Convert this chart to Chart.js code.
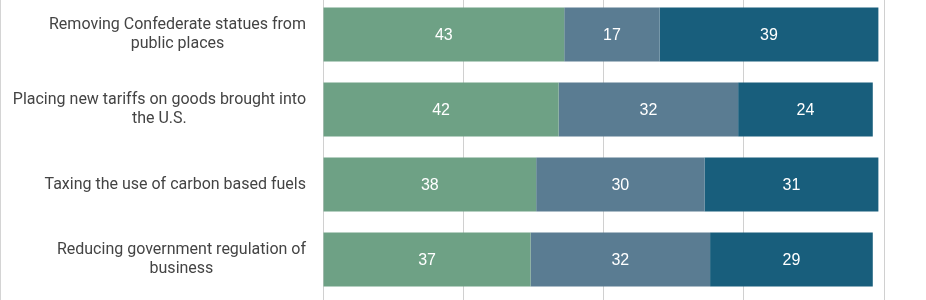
<!DOCTYPE html>
<html>
<head>
<meta charset="utf-8">
<script src="https://cdn.jsdelivr.net/npm/chart.js@4/dist/chart.umd.min.js"></script>
<style>
  html, body { margin: 0; padding: 0; background: #fff; overflow: hidden; }
  body { width: 926px; height: 300px; position: relative; }
  #edge { position: absolute; left: 0; top: 0; width: 1px; height: 300px; background: #d4d4d4; }
  #wrap { position: absolute; left: 0; top: -3px; width: 926px; height: 310px; }
</style>
</head>
<body>
<div id="edge"></div>
<div id="wrap"><canvas id="c"></canvas></div>
<script>
const categories = [
  ["Removing Confederate statues from", "public places"],
  ["Placing new tariffs on goods brought into", "the U.S."],
  ["Taxing the use of carbon based fuels"],
  ["Reducing government regulation of", "business"]
];
const seriesA = [43, 42, 38, 37];
const seriesB = [17, 32, 30, 32];
const seriesC = [39, 24, 31, 29];
const xTicks = [0, 25, 50, 75, 100];

const labelFont = '16px Roboto';
const valueFont = '16px "Liberation Sans", Arial, sans-serif';

const customLabels = {
  id: 'customLabels',
  afterDatasetsDraw(chart) {
    const ctx = chart.ctx;
    ctx.save();
    ctx.font = valueFont;
    ctx.fillStyle = '#ffffff';
    ctx.textAlign = 'center';
    ctx.textBaseline = 'middle';
    chart.data.datasets.forEach((ds, di) => {
      const meta = chart.getDatasetMeta(di);
      meta.data.forEach((el, i) => {
        const cx = (el.x + el.base) / 2;
        ctx.fillText(String(ds.data[i]), cx, el.y + 1);
      });
    });
    ctx.restore();
    const yScale = chart.scales.y;
    ctx.save();
    ctx.font = labelFont;
    ctx.fillStyle = '#444444';
    ctx.textAlign = 'center';
    ctx.textBaseline = 'middle';
    const right = chart.chartArea.left - 17;
    const lh = 19;
    categories.forEach((lines, i) => {
      const y = yScale.getPixelForValue(i);
      const widest = Math.max(...lines.map(l => ctx.measureText(l).width));
      const cx = right - widest / 2;
      const y0 = y - (lines.length - 1) * lh / 2;
      lines.forEach((l, k) => ctx.fillText(l, cx, y0 + k * lh));
    });
    ctx.restore();
  }
};

new Chart(document.getElementById('c'), {
  type: 'bar',
  data: {
    labels: categories,
    datasets: [
      { label: 'A', data: seriesA, backgroundColor: '#6ea185' },
      { label: 'B', data: seriesB, backgroundColor: '#5a7c92' },
      { label: 'C', data: seriesC, backgroundColor: '#185e7c' }
    ]
  },
  options: {
    indexAxis: 'y',
    responsive: true,
    maintainAspectRatio: false,
    animation: false,
    layout: { padding: { left: 0, right: 42, top: 0, bottom: 0 } },
    categoryPercentage: 0.9,
    barPercentage: 0.8,
    plugins: { legend: { display: false }, tooltip: { enabled: false } },
    scales: {
      x: {
        stacked: true,
        min: 0, max: 100,
        afterBuildTicks(scale) { scale.ticks = xTicks.map(v => ({ value: v })); },
        ticks: { display: false },
        grid: { color: '#d0d0d0', lineWidth: 1, drawTicks: true, tickLength: 10 },
        border: { display: false }
      },
      y: {
        stacked: true,
        ticks: { display: false },
        grid: { display: false },
        border: { display: false },
        afterFit(scale) { scale.width = 323; }
      }
    }
  },
  plugins: [customLabels]
});
</script>
</body>
</html>
